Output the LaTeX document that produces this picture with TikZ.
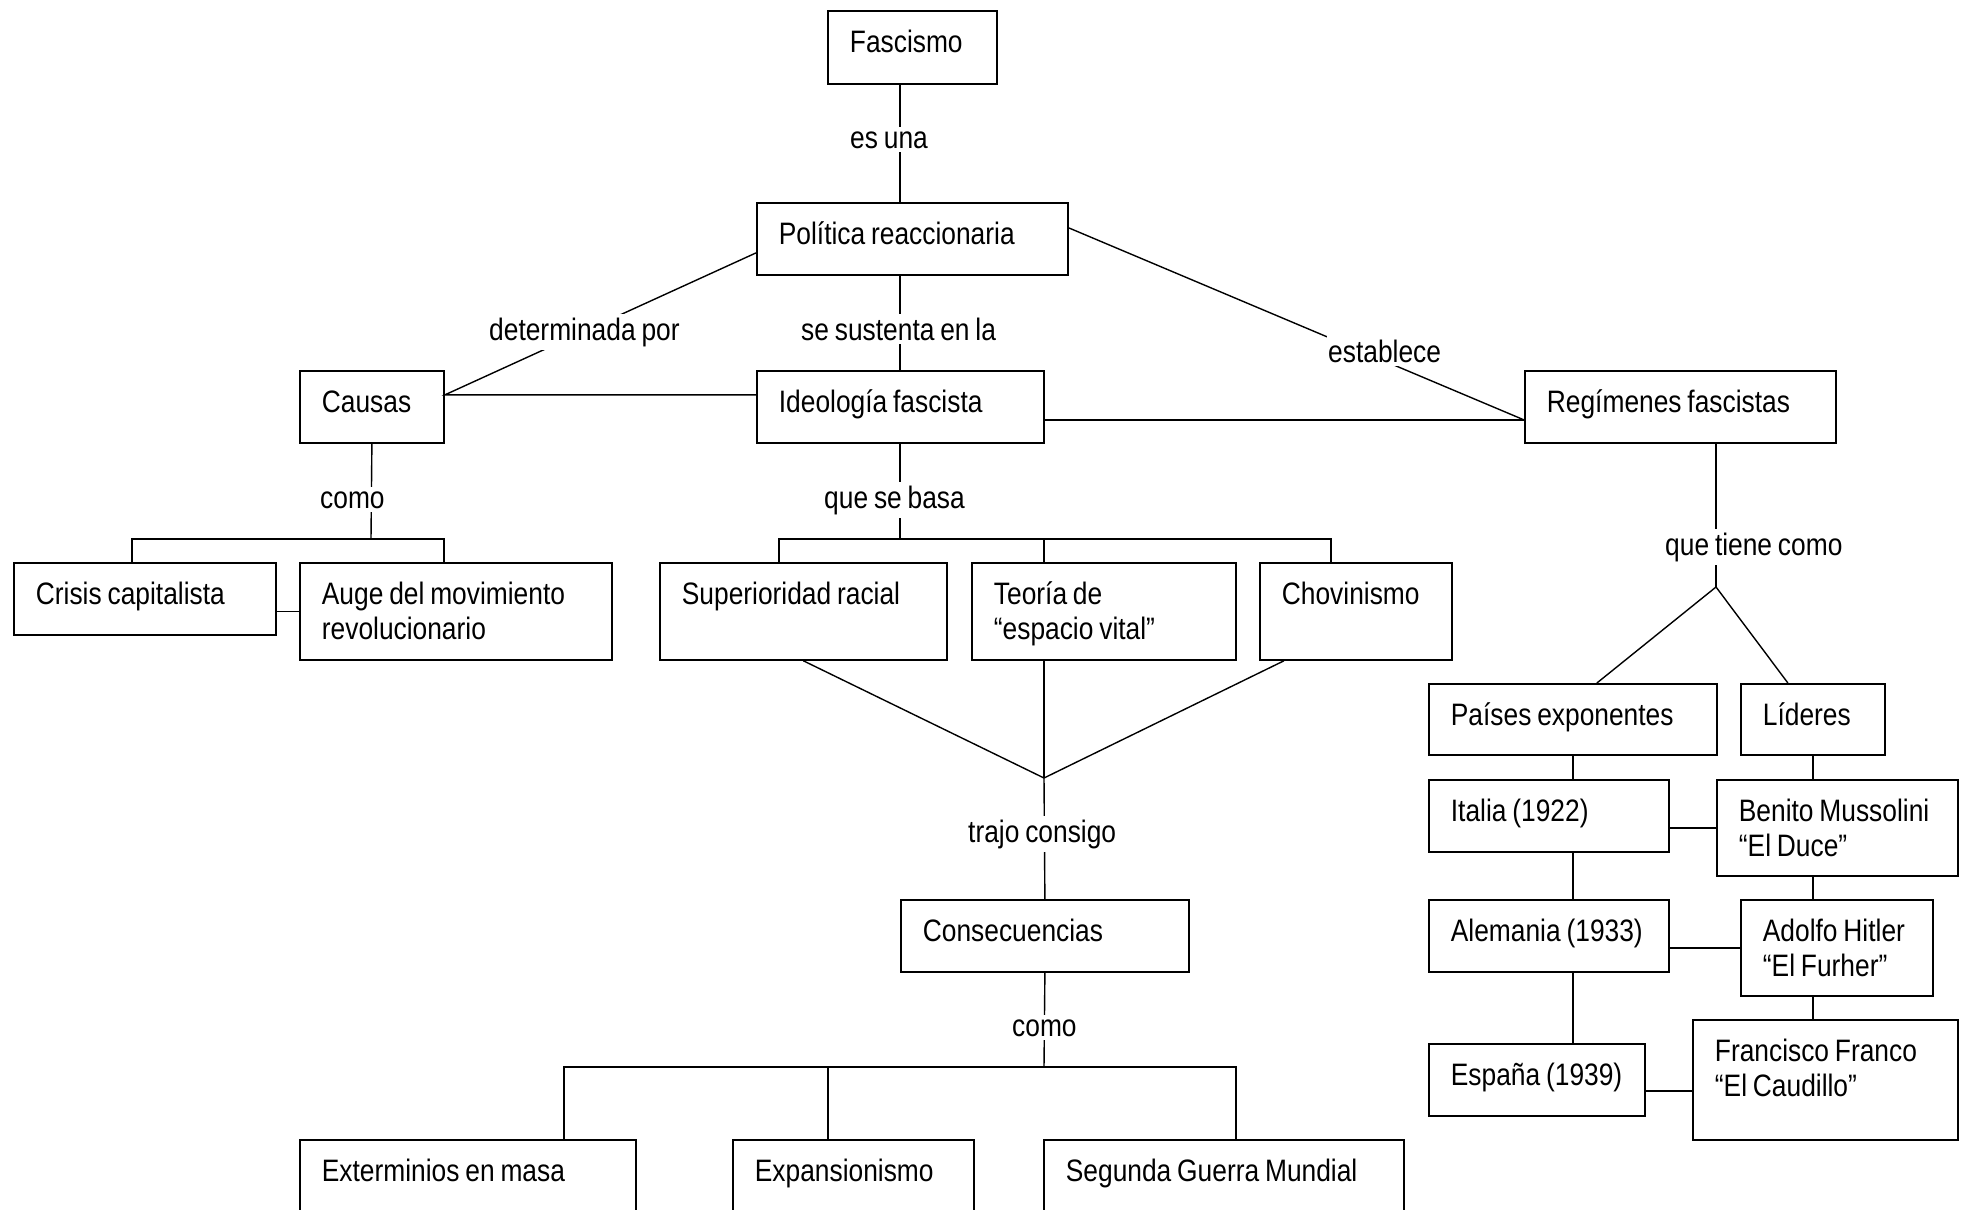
\documentclass[tikz,border=0pt]{standalone}
\usepackage{fontspec}
\setmainfont[FakeStretch=0.85, WordSpace=0.8]{Liberation Sans}
\newcommand\Lbox[1]{\mbox{\spaceskip=0pt\xspaceskip=0pt\relax #1}}
\begin{document}
\begin{tikzpicture}[x=1pt,y=-1pt,
  box/.style={draw, line width=1.8pt, anchor=north west, inner xsep=22pt, inner ysep=0pt,
    text height=42pt, font=\fontsize{31}{34.5}\selectfont},
  lbl/.style={fill=white, anchor=base west, inner xsep=1pt, inner ysep=4pt,
    font=\fontsize{31}{34.5}\selectfont},
  conn/.style={line width=1.4pt}]
\useasboundingbox (0,0) rectangle (1968,1210);
\clip (0,0) rectangle (1968,1210);

% ---------- boxes ----------
\node[box, text width=125pt, text depth=31pt] (fas) at (827,10) {Fascismo};
\node[box, text width=267pt, text depth=30pt] (pol) at (756,202) {\Lbox{Política reaccionaria}};
\node[box, text width=100pt, text depth=30pt] (cau) at (299,370) {Causas};
\node[box, text width=243pt, text depth=30pt] (ide) at (756,370) {\Lbox{Ideología fascista}};
\node[box, text width=267pt, text depth=30pt] (reg) at (1524,370) {\Lbox{Regímenes fascistas}};
\node[box, text width=218pt, text depth=30pt] (cri) at (13,562) {\Lbox{Crisis capitalista}};
\node[box, text width=268pt, text depth=55pt] (aug) at (299,562) {\Lbox{Auge del movimiento}\\\Lbox{revolucionario}};
\node[box, text width=243pt, text depth=55pt] (sup) at (659,562) {\Lbox{Superioridad racial}};
\node[box, text width=220pt, text depth=55pt] (teo) at (971,562) {\Lbox{Teoría de}\\\Lbox{“espacio vital”}};
\node[box, text width=148pt, text depth=55pt] (cho) at (1259,562) {Chovinismo};
\node[box, text width=244pt, text depth=30pt] (con) at (900,899) {Consecuencias};
\node[box, text width=292pt, text depth=78pt] (ext) at (299,1139) {\Lbox{Exterminios en masa}};
\node[box, text width=197pt, text depth=78pt] (exp) at (732,1139) {Expansionismo};
\node[box, text width=316pt, text depth=78pt] (seg) at (1043,1139) {\Lbox{Segunda Guerra Mundial}};
\node[box, text width=244pt, text depth=29pt] (pai) at (1428,683) {\Lbox{Países exponentes}};
\node[box, text width=100pt, text depth=29pt] (lid) at (1740,683) {Líderes};
\node[box, text width=196pt, text depth=30pt] (ita) at (1428,779) {\Lbox{Italia (1922)}};
\node[box, text width=197pt, text depth=54pt] (ben) at (1716,779) {\Lbox{Benito Mussolini}\\\Lbox{“El Duce”}};
\node[box, text width=196pt, text depth=30pt] (ale) at (1428,899) {\Lbox{Alemania (1933)}};
\node[box, text width=148pt, text depth=54pt] (ado) at (1740,899) {\Lbox{Adolfo Hitler}\\\Lbox{“El Furher”}};
\node[box, text width=172pt, text depth=30pt] (esp) at (1428,1043) {\Lbox{España (1939)}};
\node[box, text width=221pt, text depth=78pt] (fra) at (1692,1019) {\Lbox{Francisco Franco}\\\Lbox{“El Caudillo”}};

% ---------- junction points ----------
\coordinate (xA) at (900,0);
\coordinate (jc) at (371,539);
\coordinate (cL) at (132,539);
\coordinate (cR) at (444,539);
\coordinate (jb) at (900,539);
\coordinate (bL) at (779,539);
\coordinate (bM) at (1044,539);
\coordinate (bR) at (1331,539);
\coordinate (jv) at (1044,778);
\coordinate (jk) at (1044,1067);
\coordinate (kL) at (564,1067);
\coordinate (kM) at (828,1067);
\coordinate (kR) at (1236,1067);
\coordinate (jq) at (1716,587);
\coordinate (ef) at ([yshift=-11pt]esp.east);

% ---------- connectors ----------
\draw[conn] (fas.south -| xA) -- (pol.north -| xA);
\draw[conn] (pol.south -| xA) -- (ide.north -| xA);
\draw[conn] ([yshift=-14pt]pol.west) -- ([yshift=12pt]cau.east) -- ([yshift=12pt]ide.west);
\draw[conn] ([yshift=11pt]pol.east) -- ([yshift=-13pt]reg.west);
\draw[conn] ([yshift=-13pt]ide.east) -- ([yshift=-13pt]reg.west);

\draw[conn] (cau.south) -- (jc);
\draw[conn] (cri.north -| cL) -- (cL) -- (cR) -- (aug.north -| cR);
\draw[conn] (aug.west -| cri.east) -- (aug.west);

\draw[conn] (ide.south -| jb) -- (jb);
\draw[conn] (sup.north -| bL) -- (bL) -- (bR) -- (cho.north -| bR);
\draw[conn] (bM) -- (teo.north -| bM);

\draw[conn] (sup.south) -- (jv);
\draw[conn] (teo.south -| jv) -- (jv);
\draw[conn] ([xshift=-72pt]cho.south) -- (jv);
\draw[conn] (jv) -- (con.north);

\draw[conn] (con.south) -- (jk);
\draw[conn] (ext.north -| kL) -- (kL) -- (kR) -- (seg.north -| kR);
\draw[conn] (kM) -- (exp.north -| kM);

\draw[conn] (reg.south -| jq) -- (jq);
\draw[conn] ([xshift=24pt]pai.north) -- (jq) -- ([xshift=-25pt]lid.north);

\draw[conn] (pai.south) -- (ita.north -| pai.south);
\draw[conn] (ita.south -| pai.south) -- (ale.north -| pai.south);
\draw[conn] (ale.south -| pai.south) -- (esp.north -| pai.south);
\draw[conn] (lid.south) -- (ben.north -| lid.south);
\draw[conn] (ben.south -| lid.south) -- (ado.north -| lid.south);
\draw[conn] (ado.south -| lid.south) -- (fra.north -| lid.south);
\draw[conn] (ben.west -| ita.east) -- (ben.west);
\draw[conn] (ado.west -| ale.east) -- (ado.west);
\draw[conn] (ef) -- (ef -| fra.west);

% ---------- link labels ----------
\node[lbl] (l1) at (849,148) {es una};
\node[lbl] (l2) at (800,340) {se sustenta en la};
\node[lbl] (l3) at (488,340) {determinada por};
\node[lbl] (l4) at (1327,362) {establece};
\node[lbl] (l5) at (319,508) {como};
\node[lbl] (l6) at (823,508) {que se basa};
\node[lbl] (l7) at (1664,555) {que tiene como};
\node[lbl] (l8) at (967,842) {trajo consigo};
\node[lbl] (l9) at (1011,1036) {como};
\end{tikzpicture}
\end{document}
